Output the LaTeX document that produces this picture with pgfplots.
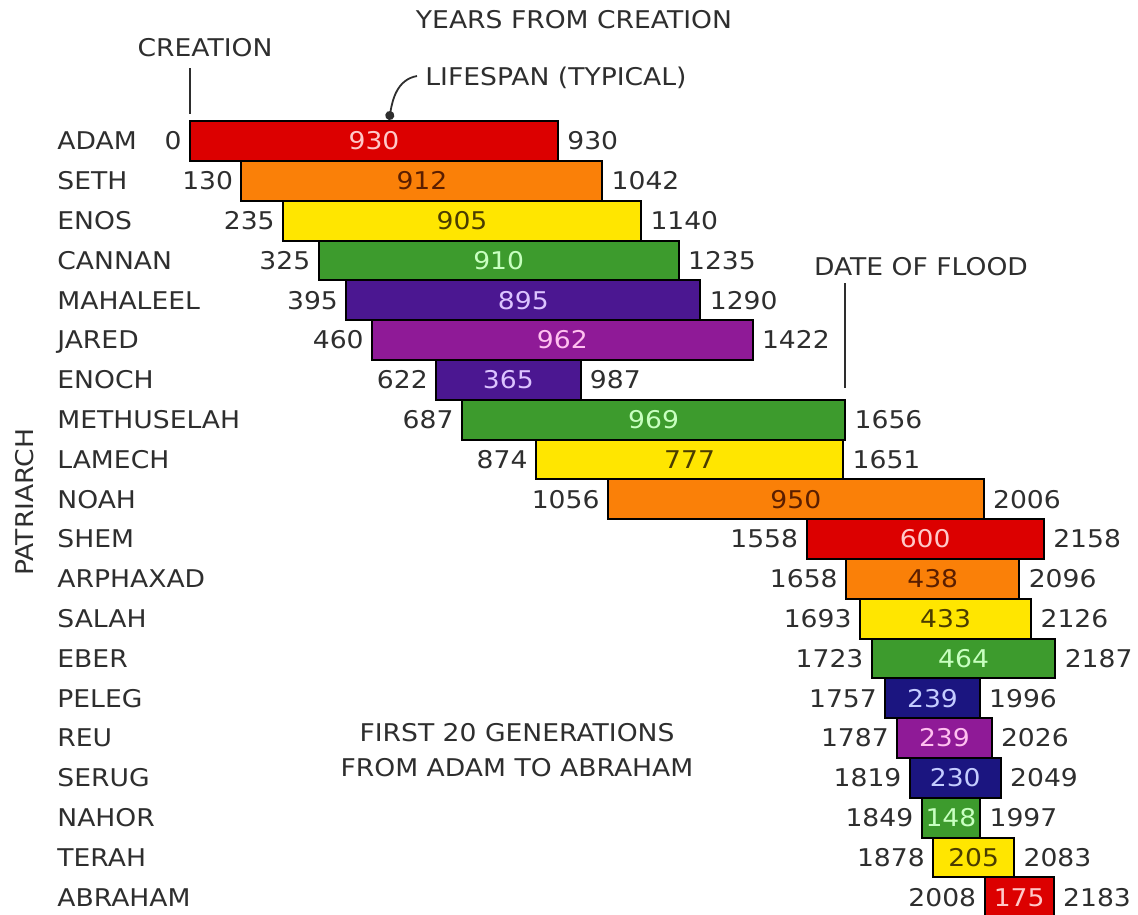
\documentclass[border=0pt]{standalone}
\usepackage{fontspec}
\setmainfont{DejaVu Sans}[FakeStretch=1.09]
\usepackage{pgfplots}
\pgfplotsset{compat=1.18}
\usepackage{pgfplotstable}
\usetikzlibrary{arrows.meta}

\definecolor{tx}{HTML}{2E2E2E}
\definecolor{cR}{HTML}{DC0000}
\definecolor{cO}{HTML}{FA8008}
\definecolor{cY}{HTML}{FFE600}
\definecolor{cG}{HTML}{3D9B2D}
\definecolor{cI}{HTML}{4B1791}
\definecolor{cM}{HTML}{8F1A97}
\definecolor{cN}{HTML}{1B1580}
\definecolor{tR}{HTML}{FFC8C8}
\definecolor{tO}{HTML}{5A1E00}
\definecolor{tY}{HTML}{4A3C00}
\definecolor{tG}{HTML}{C8FFC0}
\definecolor{tI}{HTML}{DCC4FF}
\definecolor{tM}{HTML}{FFC0F0}
\definecolor{tN}{HTML}{C4CCFF}

\tikzset{pbar/.style={draw=black, line width=1bp},
  lab/.style={inner sep=0pt, text height=8.9bp, text depth=0pt}}

\pgfplotstableread{
row start end life tc
1 0 930 930 tR
2 130 1042 912 tO
3 235 1140 905 tY
4 325 1235 910 tG
5 395 1290 895 tI
6 460 1422 962 tM
7 622 987 365 tI
8 687 1656 969 tG
9 874 1651 777 tY
10 1056 2006 950 tO
11 1558 2158 600 tR
12 1658 2096 438 tO
13 1693 2126 433 tY
14 1723 2187 464 tG
15 1757 1996 239 tN
16 1787 2026 239 tM
17 1819 2049 230 tN
18 1849 1997 148 tG
19 1878 2083 205 tY
20 2008 2183 175 tR
}\lifetable

\newcommand\lfont{\fontsize{12.2bp}{14.6bp}\selectfont}

\begin{document}
\lfont
\begin{tikzpicture}
\begin{axis}[
  scale only axis, width=569bp, height=457.5bp,
  xmin=-480.2, xmax=2395.8, ymin=-2.543, ymax=20.447, y dir=reverse,
  axis line style={draw=none}, major tick length=0pt,
  xtick=\empty, ytick={1,...,20},
  yticklabels={ADAM,SETH,ENOS,CANNAN,MAHALEEL,JARED,ENOCH,METHUSELAH,LAMECH,NOAH,SHEM,ARPHAXAD,SALAH,EBER,PELEG,REU,SERUG,NAHOR,TERAH,ABRAHAM},
  yticklabel style={lab, anchor=west, xshift=28.5bp, text=tx, font=\lfont},
  clip=false,
]
\addplot[pbar, fill=cR] coordinates {(0,0.5) (930,0.5) (930,1.5) (0,1.5)} --cycle;
\addplot[pbar, fill=cO] coordinates {(130,1.5) (1042,1.5) (1042,2.5) (130,2.5)} --cycle;
\addplot[pbar, fill=cY] coordinates {(235,2.5) (1140,2.5) (1140,3.5) (235,3.5)} --cycle;
\addplot[pbar, fill=cG] coordinates {(325,3.5) (1235,3.5) (1235,4.5) (325,4.5)} --cycle;
\addplot[pbar, fill=cI] coordinates {(395,4.5) (1290,4.5) (1290,5.5) (395,5.5)} --cycle;
\addplot[pbar, fill=cM] coordinates {(460,5.5) (1422,5.5) (1422,6.5) (460,6.5)} --cycle;
\addplot[pbar, fill=cI] coordinates {(622,6.5) (987,6.5) (987,7.5) (622,7.5)} --cycle;
\addplot[pbar, fill=cG] coordinates {(687,7.5) (1656,7.5) (1656,8.5) (687,8.5)} --cycle;
\addplot[pbar, fill=cY] coordinates {(874,8.5) (1651,8.5) (1651,9.5) (874,9.5)} --cycle;
\addplot[pbar, fill=cO] coordinates {(1056,9.5) (2006,9.5) (2006,10.5) (1056,10.5)} --cycle;
\addplot[pbar, fill=cR] coordinates {(1558,10.5) (2158,10.5) (2158,11.5) (1558,11.5)} --cycle;
\addplot[pbar, fill=cO] coordinates {(1658,11.5) (2096,11.5) (2096,12.5) (1658,12.5)} --cycle;
\addplot[pbar, fill=cY] coordinates {(1693,12.5) (2126,12.5) (2126,13.5) (1693,13.5)} --cycle;
\addplot[pbar, fill=cG] coordinates {(1723,13.5) (2187,13.5) (2187,14.5) (1723,14.5)} --cycle;
\addplot[pbar, fill=cN] coordinates {(1757,14.5) (1996,14.5) (1996,15.5) (1757,15.5)} --cycle;
\addplot[pbar, fill=cM] coordinates {(1787,15.5) (2026,15.5) (2026,16.5) (1787,16.5)} --cycle;
\addplot[pbar, fill=cN] coordinates {(1819,16.5) (2049,16.5) (2049,17.5) (1819,17.5)} --cycle;
\addplot[pbar, fill=cG] coordinates {(1849,17.5) (1997,17.5) (1997,18.5) (1849,18.5)} --cycle;
\addplot[pbar, fill=cY] coordinates {(1878,18.5) (2083,18.5) (2083,19.5) (1878,19.5)} --cycle;
\addplot[pbar, fill=cR] coordinates {(2008,19.5) (2183,19.5) (2183,20.5) (2008,20.5)} --cycle;

% start labels
\addplot[draw=none, mark=none, nodes near coords, point meta=explicit symbolic,
  every node near coord/.style={lab, anchor=east, xshift=-4bp, text=tx, font=\lfont}]
  table[x=start, y=row, meta=start] {\lifetable};
% end labels
\addplot[draw=none, mark=none, nodes near coords, point meta=explicit symbolic,
  every node near coord/.style={lab, anchor=west, xshift=4.5bp, text=tx, font=\lfont}]
  table[x=end, y=row, meta=end] {\lifetable};
% lifespan labels (meta = text colour name, label = lifespan)
\addplot[draw=none, mark=none, point meta=explicit symbolic,
  visualization depends on={\thisrow{life}\as\lifev},
  nodes near coords={\pgfmathprintnumber[fixed,precision=0,1000 sep={},assume math mode=true]{\lifev}},
  every node near coord/.style={lab, anchor=center, text=\pgfplotspointmeta, font=\lfont}]
  table[x expr=(\thisrow{start}+\thisrow{end})/2, y=row, meta=tc] {\lifetable};

% annotations
\node[text=tx, font=\lfont, lab] at (axis cs:970.4,-2.04) {YEARS FROM CREATION};
\node[text=tx, font=\lfont, lab] at (axis cs:37.9,-1.337) {CREATION};
\draw[tx, line width=1bp] (axis cs:0,-0.834) -- (axis cs:0,0.322);
\node[text=tx, font=\lfont, lab, anchor=west] at (axis cs:593.9,-0.608) {LIFESPAN (TYPICAL)};
\draw[tx, line width=0.9bp, -{Circle[length=4.5bp]}] (axis cs:573.7,-0.633) to[out=190,in=80] (axis cs:502.9,0.47);
\node[text=tx, font=\lfont, lab] at (axis cs:1847.4,4.166) {DATE OF FLOOD};
\draw[tx, line width=1bp] (axis cs:1656,4.568) -- (axis cs:1656,7.206);
\node[text=tx, font=\lfont, lab, rotate=90] at (axis cs:-417,10.07) {PATRIARCH};
\node[text=tx, font=\lfont, align=center] at (axis cs:826.4,16.3) {FIRST 20 GENERATIONS\\[2.6bp]FROM ADAM TO ABRAHAM};
\end{axis}
\pgfresetboundingbox
\path[use as bounding box] (current axis.south west) rectangle (current axis.north east);
\end{tikzpicture}
\end{document}
